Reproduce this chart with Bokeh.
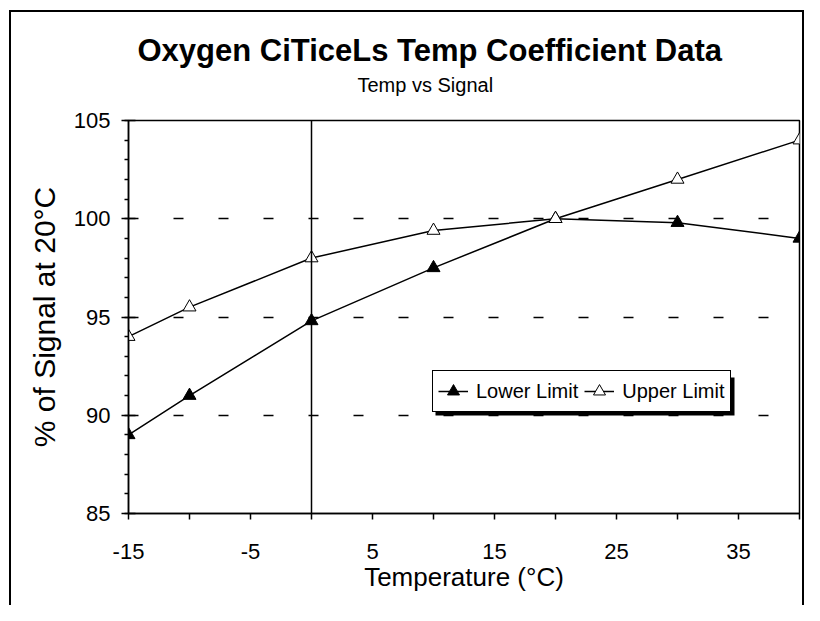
from bokeh.plotting import figure
from bokeh.models import (Legend, LegendItem, Span, BoxAnnotation, Title,
                          FixedTicker, Range1d, PrintfTickFormatter)
from bokeh.embed import file_html
from bokeh.resources import INLINE

# ---- data ----
temps = [-15, -10, 0, 10, 20, 30, 40]
lower_limit = [89.0, 91.0, 94.8, 97.5, 100.0, 99.8, 99.0]
upper_limit = [94.0, 95.5, 98.0, 99.4, 100.0, 102.0, 104.0]
x_label_ticks = [-15, -5, 5, 15, 25, 35]
x_minor_ticks = [-10, 0, 10, 20, 30, 40]
y_ticks = [85, 90, 95, 100, 105]
y_minor_ticks = list(range(85, 106))
ref_temp = 0

FONT = "Liberation Sans"

p = figure(width=804, height=605, output_backend="svg", toolbar_location=None,
           title_location=None,
           x_range=Range1d(-15, 40), y_range=Range1d(85, 105),
           min_border_left=128, min_border_right=5,
           min_border_top=120, min_border_bottom=92,
           background_fill_color="white", border_fill_alpha=0)

# outer chart border (drawn as CSS background behind the transparent canvas border)
p.styles = {
    "background-color": "white",
    "background-image": "linear-gradient(#000,#000), linear-gradient(#000,#000), linear-gradient(#000,#000)",
    "background-size": "2px 100%, 795px 2px, 2px 100%",
    "background-position": "9px 10px, 9px 10px, 802px 10px",
    "background-repeat": "no-repeat",
}

p.outline_line_color = "black"
p.outline_line_width = 1.5
p.outline_line_alpha = 1

# axes
p.xaxis.ticker = FixedTicker(ticks=x_label_ticks, minor_ticks=x_minor_ticks)
p.yaxis.ticker = FixedTicker(ticks=y_ticks, minor_ticks=y_minor_ticks)
p.xaxis.formatter = PrintfTickFormatter(format="%d")
p.yaxis.formatter = PrintfTickFormatter(format="%d")
for ax in (p.xaxis[0], p.yaxis[0]):
    ax.axis_line_color = "black"
    ax.axis_line_width = 1.5
    ax.major_tick_line_color = "black"
    ax.major_tick_line_width = 1.5
    ax.minor_tick_line_color = "black"
    ax.minor_tick_line_width = 1.5
    ax.major_label_text_font = FONT
    ax.major_label_text_font_size = "22px"
    ax.major_label_text_color = "black"
    ax.axis_label_text_font = FONT
    ax.axis_label_text_font_style = "normal"
    ax.axis_label_text_color = "black"

p.xaxis.major_tick_in = 0
p.xaxis.major_tick_out = 6
p.xaxis.minor_tick_in = 0
p.xaxis.minor_tick_out = 6
p.xaxis.major_label_standoff = 24
p.xaxis.axis_label = "Temperature (°C)"
p.xaxis.axis_label_text_font_size = "26px"
p.xaxis.axis_label_standoff = 0

p.yaxis.major_tick_in = 7
p.yaxis.major_tick_out = 7
p.yaxis.minor_tick_in = 0
p.yaxis.minor_tick_out = 4
p.yaxis.major_label_standoff = 11
p.yaxis.axis_label = "% of Signal at 20°C"
p.yaxis.axis_label_text_font_size = "30px"
p.yaxis.axis_label_standoff = 10

p.xgrid.visible = False
p.ygrid.grid_line_color = "black"
p.ygrid.grid_line_width = 1.5
p.ygrid.grid_line_dash = "10 35"

# vertical reference line at 0 °C
p.add_layout(Span(location=ref_temp, dimension="height", line_color="black",
                  line_width=1.5))

# series
l1 = p.line(temps, lower_limit, line_color="black", line_width=1.5)
s1 = p.scatter(temps, lower_limit, marker="triangle", size=13,
               fill_color="black", line_color="black", line_width=1)
l2 = p.line(temps, upper_limit, line_color="black", line_width=1.5)
s2 = p.scatter(temps, upper_limit, marker="triangle", size=13,
               fill_color="white", line_color="black", line_width=1)

# legend shadow
p.add_layout(BoxAnnotation(left=435, right=734, top=377, bottom=415,
                           left_units="canvas", right_units="canvas",
                           top_units="canvas", bottom_units="canvas",
                           fill_color="black", fill_alpha=1, line_alpha=0))

legend = Legend(items=[LegendItem(label="Lower Limit", renderers=[l1, s1]),
                       LegendItem(label="Upper Limit", renderers=[l2, s2])],
                orientation="horizontal", location=(304, 101),
                label_text_font=FONT, label_text_font_size="20px",
                label_text_color="black",
                glyph_width=30, glyph_height=30, label_height=20,
                label_standoff=8, spacing=6, padding=5, margin=0,
                border_line_color="black", border_line_width=1.5,
                border_line_alpha=1,
                background_fill_color="white", background_fill_alpha=1)
p.add_layout(legend, "center")

# titles (first added sits closest to the plot)
p.add_layout(Title(text="Temp vs Signal", align="left", offset=229,
                   text_font=FONT, text_font_size="20px",
                   text_font_style="normal", text_color="black",
                   standoff=49.5), "above")
p.add_layout(Title(text="Oxygen CiTiceLs Temp Coefficient Data", align="left",
                   offset=9, text_font=FONT, text_font_size="31px",
                   text_font_style="bold", text_color="black",
                   standoff=-42), "above")

open("out.html", "w").write(file_html(p, INLINE))
